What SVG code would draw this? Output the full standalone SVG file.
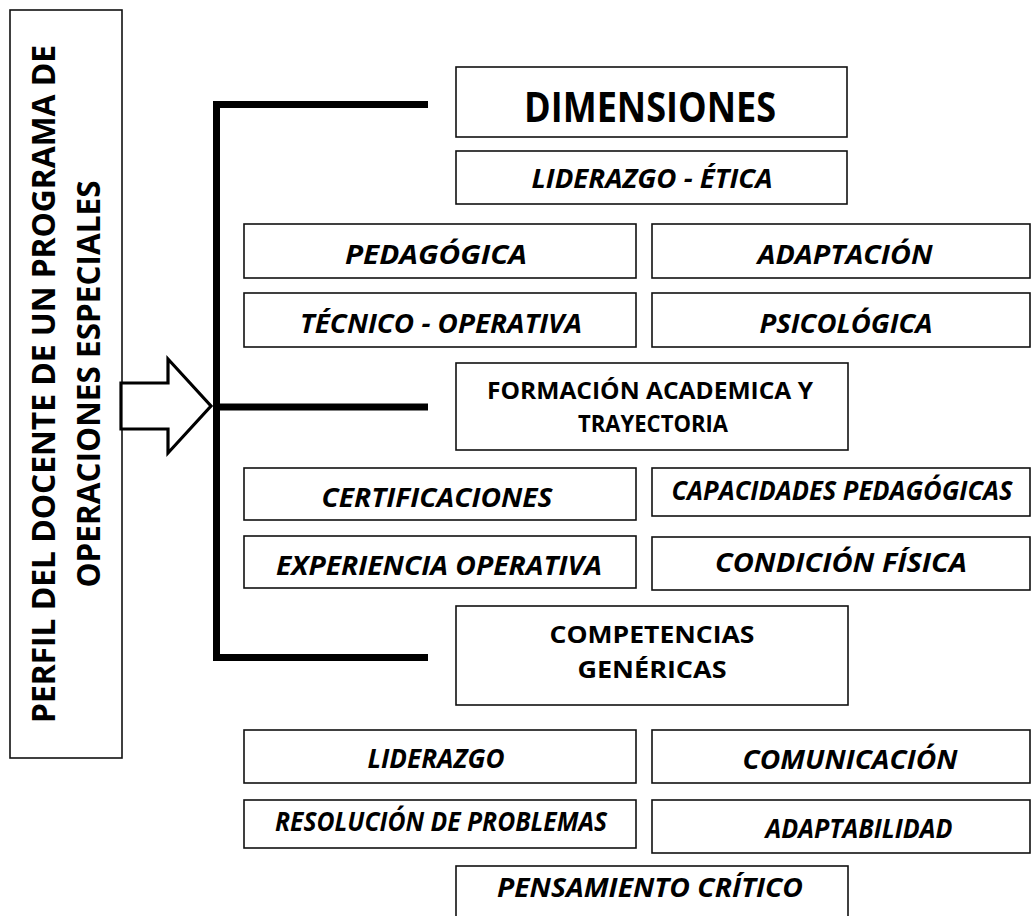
<svg xmlns="http://www.w3.org/2000/svg" width="1032" height="916" viewBox="0 0 1032 916">
<style>
.box{fill:#fff;stroke:#111;stroke-width:1.6}
.t{font-family:"Open Sans","Noto Sans","Liberation Sans",sans-serif;font-weight:bold;fill:#000;text-anchor:middle}
.i{font-style:italic;font-size:26px}
.n{font-size:23px}
.br{fill:none;stroke:#000;stroke-width:7}
</style>
<rect width="1032" height="916" fill="#fff"/>
<g id="perfil">
<rect class="box" x="10" y="10" width="112" height="748"/>
<text class="t" font-size="32" transform="translate(55,384) rotate(-90)" x="0" y="0" textLength="678" lengthAdjust="spacingAndGlyphs">PERFIL DEL DOCENTE DE UN PROGRAMA DE</text>
<text class="t" font-size="32" transform="translate(100,384) rotate(-90)" x="0" y="0" textLength="407" lengthAdjust="spacingAndGlyphs">OPERACIONES ESPECIALES</text>
</g>
<g id="connectors">
<polygon points="121,383 168,383 168,359 211,406 168,453 168,429 121,429" fill="#fff" stroke="#000" stroke-width="3.2" stroke-linejoin="miter"/>
<polyline class="br" points="428,104.5 216.5,104.5 216.5,657.5 428,657.5"/>
<line class="br" x1="216.5" y1="407" x2="428" y2="407"/>
</g>
<g id="dimensiones">
<rect class="box" x="456" y="67" width="391" height="70"/>
<text class="t" font-size="42" x="650" y="122" textLength="252" lengthAdjust="spacingAndGlyphs">DIMENSIONES</text>
</g>
<g id="liderazgo-etica">
<rect class="box" x="456" y="151" width="391" height="53"/>
<text class="t i" x="652" y="188" textLength="241" lengthAdjust="spacingAndGlyphs">LIDERAZGO - ÉTICA</text>
</g>
<g id="pedagogica">
<rect class="box" x="244" y="224" width="392" height="54"/>
<text class="t i" x="436" y="264" textLength="182" lengthAdjust="spacingAndGlyphs">PEDAGÓGICA</text>
</g>
<g id="adaptacion">
<rect class="box" x="652" y="224" width="378" height="54"/>
<text class="t i" x="845" y="264" textLength="175" lengthAdjust="spacingAndGlyphs">ADAPTACIÓN</text>
</g>
<g id="tecnico-operativa">
<rect class="box" x="244" y="293" width="392" height="54"/>
<text class="t i" x="441" y="333" textLength="282" lengthAdjust="spacingAndGlyphs">TÉCNICO - OPERATIVA</text>
</g>
<g id="psicologica">
<rect class="box" x="652" y="293" width="378" height="54"/>
<text class="t i" x="846" y="333" textLength="173" lengthAdjust="spacingAndGlyphs">PSICOLÓGICA</text>
</g>
<g id="formacion">
<rect class="box" x="456" y="363" width="392" height="87"/>
<text class="t n" x="650" y="399" textLength="326" lengthAdjust="spacingAndGlyphs">FORMACIÓN ACADEMICA Y</text>
<text class="t n" x="653" y="432" textLength="150" lengthAdjust="spacingAndGlyphs">TRAYECTORIA</text>
</g>
<g id="certificaciones">
<rect class="box" x="244" y="468" width="392" height="52"/>
<text class="t i" x="437" y="507" textLength="231" lengthAdjust="spacingAndGlyphs">CERTIFICACIONES</text>
</g>
<g id="capacidades">
<rect class="box" x="652" y="468" width="378" height="48"/>
<text class="t i" font-size="23" x="842" y="500" textLength="341" lengthAdjust="spacingAndGlyphs">CAPACIDADES PEDAGÓGICAS</text>
</g>
<g id="experiencia">
<rect class="box" x="244" y="536" width="392" height="52"/>
<text class="t i" x="439" y="575" textLength="326" lengthAdjust="spacingAndGlyphs">EXPERIENCIA OPERATIVA</text>
</g>
<g id="condicion">
<rect class="box" x="652" y="537" width="378" height="53"/>
<text class="t i" x="841" y="572" textLength="252" lengthAdjust="spacingAndGlyphs">CONDICIÓN FÍSICA</text>
</g>
<g id="competencias">
<rect class="box" x="456" y="606" width="392" height="99"/>
<text class="t n" x="652" y="643" textLength="205" lengthAdjust="spacingAndGlyphs">COMPETENCIAS</text>
<text class="t n" x="652" y="678" textLength="149" lengthAdjust="spacingAndGlyphs">GENÉRICAS</text>
</g>
<g id="liderazgo">
<rect class="box" x="244" y="730" width="392" height="53"/>
<text class="t i" x="436" y="768" textLength="137" lengthAdjust="spacingAndGlyphs">LIDERAZGO</text>
</g>
<g id="comunicacion">
<rect class="box" x="652" y="730" width="378" height="53"/>
<text class="t i" x="850" y="769" textLength="215" lengthAdjust="spacingAndGlyphs">COMUNICACIÓN</text>
</g>
<g id="resolucion">
<rect class="box" x="244" y="800" width="392" height="48"/>
<text class="t i" font-size="23" x="441" y="831" textLength="332" lengthAdjust="spacingAndGlyphs">RESOLUCIÓN DE PROBLEMAS</text>
</g>
<g id="adaptabilidad">
<rect class="box" x="652" y="800" width="378" height="53"/>
<text class="t i" x="859" y="838" textLength="187" lengthAdjust="spacingAndGlyphs">ADAPTABILIDAD</text>
</g>
<g id="pensamiento">
<rect class="box" x="456" y="866" width="392" height="70"/>
<text class="t i" x="650" y="897" textLength="306" lengthAdjust="spacingAndGlyphs">PENSAMIENTO CRÍTICO</text>
</g>
</svg>
